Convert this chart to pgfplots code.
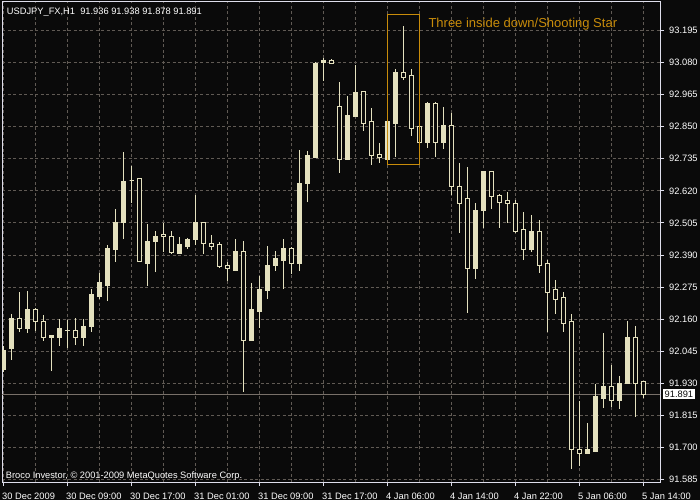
\documentclass[border=0pt]{standalone}
\usepackage{fontspec}
\setmainfont{Liberation Sans}
\usepackage{pgfplots}
\pgfplotsset{compat=1.18}
\usepackage{pgfplotstable}
\usepgfplotslibrary{statistics}

\definecolor{bg}{RGB}{10,10,10}
\definecolor{gridc}{RGB}{96,90,84}
\definecolor{cndl}{RGB}{228,225,190}
\definecolor{frame}{RGB}{222,222,236}
\definecolor{bidc}{RGB}{120,112,105}
\definecolor{patc}{RGB}{200,140,10}

% USDJPY H1 bars: bar index, open, high, low, close
\pgfplotstableread{
k o h l c
0 91.978 92.064 91.971 92.049
1 92.053 92.179 92.014 92.161
2 92.161 92.257 92.114 92.125
3 92.125 92.261 92.110 92.193
4 92.193 92.200 92.118 92.153
5 92.153 92.175 92.082 92.096
6 92.094 92.103 91.974 92.100
7 92.096 92.161 92.064 92.125
8 92.118 92.157 92.057 92.121
9 92.118 92.164 92.067 92.096
10 92.096 92.161 92.064 92.135
11 92.132 92.268 92.114 92.250
12 92.243 92.326 92.232 92.290
13 92.282 92.426 92.225 92.412
14 92.408 92.555 92.365 92.508
15 92.505 92.759 92.447 92.652
16 92.658 92.709 92.576 92.658
17 92.666 92.666 92.365 92.365
18 92.361 92.501 92.279 92.440
19 92.437 92.476 92.329 92.458
20 92.465 92.505 92.401 92.455
21 92.455 92.476 92.397 92.398
22 92.397 92.455 92.395 92.429
23 92.422 92.451 92.412 92.447
24 92.447 92.605 92.426 92.508
25 92.508 92.508 92.394 92.433
26 92.433 92.462 92.408 92.422
27 92.429 92.437 92.347 92.348
28 92.351 92.365 92.297 92.340
29 92.336 92.447 92.333 92.404
30 92.404 92.440 91.899 92.085
31 92.085 92.290 92.085 92.196
32 92.189 92.315 92.128 92.265
33 92.261 92.422 92.232 92.354
34 92.351 92.404 92.333 92.376
35 92.372 92.447 92.268 92.412
36 92.412 92.419 92.322 92.358
37 92.358 92.767 92.333 92.648
38 92.645 92.763 92.580 92.745
39 92.741 93.082 92.741 93.078
40 93.080 93.096 93.014 93.089
41 93.086 93.092 93.077 93.077
42 92.921 93.010 92.684 92.734
43 92.734 92.960 92.734 92.892
44 92.888 93.071 92.885 92.971
45 92.978 92.978 92.835 92.863
46 92.867 92.917 92.713 92.745
47 92.749 92.792 92.720 92.738
48 92.734 92.867 92.734 92.867
49 92.863 93.057 92.741 93.046
50 93.046 93.211 93.018 93.028
51 93.032 93.057 92.817 92.845
52 92.849 92.849 92.795 92.795
53 92.795 92.939 92.774 92.935
54 92.935 92.939 92.741 92.792
55 92.792 92.921 92.770 92.853
56 92.853 92.899 92.605 92.634
57 92.637 92.720 92.469 92.576
58 92.594 92.706 92.182 92.343
59 92.343 92.576 92.304 92.551
60 92.548 92.688 92.487 92.688
61 92.688 92.688 92.555 92.598
62 92.602 92.609 92.487 92.580
63 92.584 92.616 92.505 92.576
64 92.576 92.587 92.469 92.473
65 92.480 92.544 92.372 92.408
66 92.408 92.533 92.401 92.473
67 92.473 92.516 92.326 92.354
68 92.358 92.372 92.114 92.257
69 92.265 92.300 92.179 92.232
70 92.236 92.257 92.114 92.146
71 92.150 92.179 91.623 91.694
72 91.694 91.867 91.634 91.677
73 91.677 91.788 91.677 91.691
74 91.687 91.928 91.687 91.881
75 91.877 92.110 91.841 91.920
76 91.917 91.996 91.845 91.870
77 91.870 91.956 91.838 91.931
78 91.928 92.153 91.928 92.096
79 92.096 92.135 91.809 91.928
80 91.936 91.938 91.878 91.891
}\ohlc

\begin{document}
\begin{tikzpicture}
\useasboundingbox (-2pt,-18pt) rectangle (698pt,482pt);
\fill[bg] (-2pt,-18pt) rectangle (698pt,482pt);
\begin{axis}[
  at={(0pt,0pt)}, anchor=south west,
  scale only axis, width=658pt, height=480pt,
  xmin=-0.1875, xmax=82.0625, ymin=91.5761, ymax=93.2972,
  axis line style={draw=frame, line width=1pt},
  xtick={0,8,...,80},
  xticklabels={30 Dec 2009, 30 Dec 09:00, 30 Dec 17:00, 31 Dec 01:00, 31 Dec 09:00,
    31 Dec 17:00, 4 Jan 06:00, 4 Jan 14:00, 4 Jan 22:00, 5 Jan 06:00, 5 Jan 14:00},
  minor xtick={4,12,...,76},
  ytick={91.585,91.700,91.815,91.930,92.045,92.160,92.275,92.390,92.505,92.620,
    92.735,92.850,92.965,93.080,93.195},
  yticklabels={91.585,91.700,91.815,91.930,92.045,92.160,92.275,92.390,92.505,92.620,
    92.735,92.850,92.965,93.080,93.195},
  xtick pos=lower, ytick pos=upper, xticklabel pos=lower, yticklabel pos=upper,
  tick align=outside, major tick length=4pt, minor tick length=0pt,
  tick style={draw=frame, line width=1pt},
  xmajorgrids, xminorgrids, ymajorgrids,
  grid style={draw=gridc, line width=1pt, dash pattern=on 3pt off 2.5pt},
  minor grid style={draw=gridc, line width=1pt, dash pattern=on 3pt off 2.5pt},
  ticklabel style={font=\fontsize{9.3}{10}\selectfont, text=white, inner sep=0pt},
  xticklabel style={anchor=base west, xshift=-1.5pt, yshift=-13pt},
  yticklabel style={anchor=west, xshift=5pt},
  boxplot/draw direction=y, boxplot/box extend=0.5, boxplot/whisker extend=0,
]
% bid line
\addplot[bidc, line width=1pt] coordinates {(-1,91.891) (83,91.891)};

% candles
\pgfplotstablegetrowsof{\ohlc}
\pgfmathtruncatemacro\lastrow{\pgfplotsretval-1}
\pgfplotsinvokeforeach{0,...,\lastrow}{
  \pgfplotstablegetelem{#1}{k}\of\ohlc \let\cK\pgfplotsretval
  \pgfplotstablegetelem{#1}{o}\of\ohlc \let\cO\pgfplotsretval
  \pgfplotstablegetelem{#1}{h}\of\ohlc \let\cH\pgfplotsretval
  \pgfplotstablegetelem{#1}{l}\of\ohlc \let\cL\pgfplotsretval
  \pgfplotstablegetelem{#1}{c}\of\ohlc \let\cC\pgfplotsretval
  \ifdim\cC pt>\cO pt \def\cF{cndl}\let\cLo\cO\let\cHi\cC
  \else \def\cF{bg}\let\cLo\cC\let\cHi\cO \fi
  \edef\tmp{\noexpand\addplot[draw=cndl, line width=1pt, fill=\cF,
    boxplot prepared={draw position=\cK, lower whisker=\cL, lower quartile=\cLo,
      median=\cLo, upper quartile=\cHi, upper whisker=\cH}] coordinates {};}
  \tmp
}

% pattern box
\addplot[patc, line width=1pt] coordinates {(47.97,93.253) (51.97,93.253)
  (51.97,92.715) (47.97,92.715) (47.97,93.253)};

\coordinate (bid) at (axis cs:82.0625,91.891);
\end{axis}
\node[fill=white, text=bg, inner xsep=2pt, inner ysep=1.5pt, anchor=west,
  font=\fontsize{9.3}{10}\selectfont] at ([xshift=2.5pt]bid) {91.891};
\node[anchor=base west, inner sep=0pt, text=white,
  font=\fontsize{9.3}{10}\selectfont] at (4.7pt,467pt)
  {USDJPY\_FX,H1\ \ 91.936 91.938 91.878 91.891};
\node[anchor=base west, inner sep=0pt, text=white,
  font=\fontsize{9.3}{10}\selectfont] at (3.7pt,4pt)
  {Broco Investor, © 2001-2009 MetaQuotes Software Corp.};
\node[anchor=base west, inner sep=0pt, text=patc,
  font=\fontsize{13}{15}\selectfont] at (426.3pt,454pt)
  {Three inside down/Shooting Star};
\end{tikzpicture}
\end{document}
